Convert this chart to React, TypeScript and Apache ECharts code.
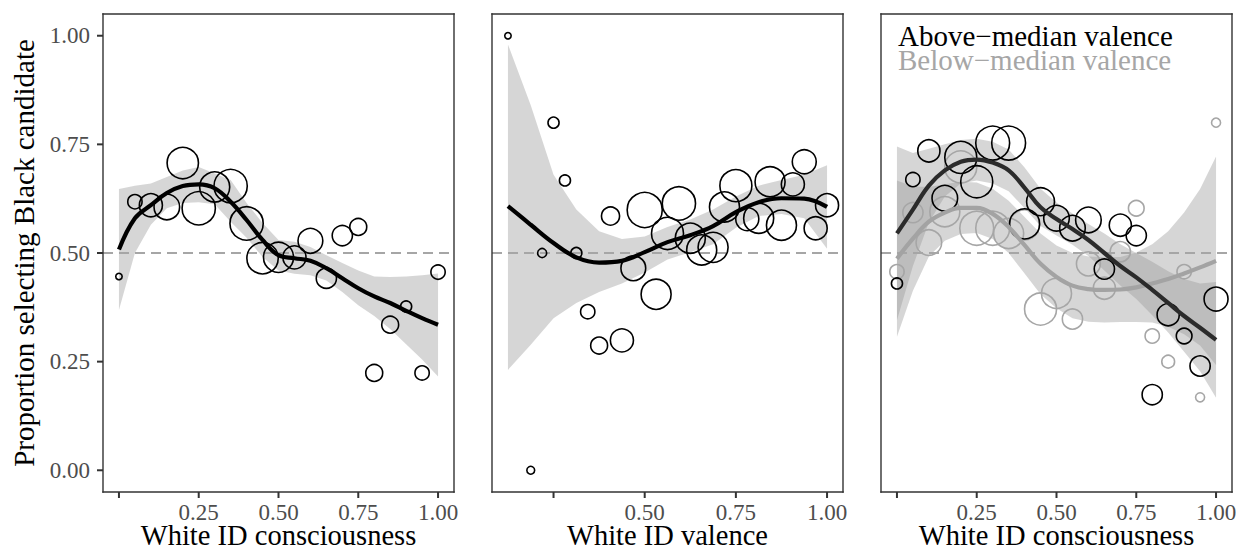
import React, { useEffect, useRef } from "react";
import * as echarts from "echarts";

// ---------- data ----------
const consX = [0, 0.05, 0.1, 0.15, 0.2, 0.25, 0.3, 0.35, 0.4, 0.45, 0.5, 0.55, 0.6, 0.65, 0.7, 0.75, 0.8, 0.85, 0.9, 0.95, 1.0];

// Panel 1: White ID consciousness
const p1Y = [0.446, 0.618, 0.61, 0.606, 0.707, 0.603, 0.652, 0.654, 0.568, 0.488, 0.49, 0.49, 0.528, 0.442, 0.54, 0.56, 0.224, 0.335, 0.377, 0.224, 0.456];
const p1N = [1, 5, 13, 16, 24, 27, 22, 27, 27, 24, 22, 13, 15, 10, 10, 7, 7, 7, 3, 5, 5];
const p1Fit = [0.508, 0.58, 0.61, 0.638, 0.654, 0.658, 0.649, 0.618, 0.576, 0.53, 0.495, 0.488, 0.482, 0.465, 0.442, 0.419, 0.4, 0.385, 0.367, 0.35, 0.335];
const p1Upper = [0.647, 0.655, 0.66, 0.675, 0.69, 0.698, 0.683, 0.668, 0.615, 0.569, 0.53, 0.526, 0.514, 0.495, 0.477, 0.46, 0.446, 0.445, 0.446, 0.449, 0.453];
const p1Lower = [0.369, 0.5, 0.565, 0.603, 0.615, 0.617, 0.612, 0.572, 0.535, 0.491, 0.46, 0.452, 0.449, 0.437, 0.41, 0.38, 0.355, 0.325, 0.29, 0.255, 0.216];

// Panel 2: White ID valence
const p2X = [0.125, 0.1875, 0.21875, 0.25, 0.28125, 0.3125, 0.34375, 0.375, 0.40625, 0.4375, 0.46875, 0.5, 0.53125, 0.5625, 0.59375, 0.625, 0.65625, 0.6875, 0.71875, 0.75, 0.78125, 0.8125, 0.84375, 0.875, 0.90625, 0.9375, 0.96875, 1.0];
const p2Y = [1.0, 0.0, 0.5, 0.8, 0.667, 0.5, 0.365, 0.287, 0.585, 0.299, 0.465, 0.599, 0.405, 0.545, 0.614, 0.534, 0.507, 0.513, 0.606, 0.655, 0.578, 0.58, 0.664, 0.564, 0.658, 0.71, 0.557, 0.61];
const p2N = [1, 1.5, 2, 3, 3, 3, 5, 7, 8, 13, 15, 30, 22, 25, 27, 22, 22, 22, 22, 25, 13, 22, 22, 22, 13, 14, 13, 13];
const p2FitX = [0.125, 0.1875, 0.25, 0.3125, 0.375, 0.4375, 0.5, 0.5625, 0.625, 0.6875, 0.75, 0.8125, 0.875, 0.9375, 1.0];
const p2Fit = [0.608, 0.565, 0.523, 0.49, 0.478, 0.482, 0.502, 0.525, 0.541, 0.562, 0.594, 0.617, 0.626, 0.625, 0.606];
const p2Upper = [0.98, 0.84, 0.68, 0.6, 0.55, 0.532, 0.538, 0.56, 0.577, 0.6, 0.63, 0.655, 0.668, 0.68, 0.702];
const p2Lower = [0.231, 0.289, 0.35, 0.385, 0.41, 0.43, 0.455, 0.485, 0.502, 0.52, 0.558, 0.585, 0.59, 0.58, 0.51];

// Panel 3: consciousness split by valence
const aboveY = [0.43, 0.669, 0.735, 0.626, 0.72, 0.664, 0.753, 0.753, 0.567, 0.618, 0.58, 0.557, 0.576, 0.463, 0.564, 0.54, 0.174, 0.358, 0.309, 0.24, 0.394];
const aboveN = [3, 5, 12, 16, 25, 25, 28, 28, 22, 19, 16, 16, 16, 10, 12, 10, 10, 12, 6, 10, 14];
const aboveFit = [0.545, 0.6, 0.655, 0.69, 0.71, 0.715, 0.708, 0.69, 0.65, 0.605, 0.578, 0.555, 0.53, 0.5, 0.47, 0.444, 0.415, 0.385, 0.355, 0.328, 0.3];
const aboveUpper = [0.745, 0.73, 0.74, 0.75, 0.76, 0.763, 0.756, 0.738, 0.697, 0.648, 0.616, 0.591, 0.567, 0.545, 0.52, 0.5, 0.48, 0.458, 0.44, 0.43, 0.433];
const aboveLower = [0.345, 0.47, 0.57, 0.63, 0.66, 0.667, 0.66, 0.642, 0.603, 0.562, 0.54, 0.519, 0.493, 0.46, 0.425, 0.394, 0.357, 0.317, 0.273, 0.228, 0.167];

const belowY = [0.457, 0.593, 0.524, 0.595, 0.698, 0.557, 0.557, 0.545, 0.565, 0.371, 0.407, 0.348, 0.475, 0.419, 0.503, 0.603, 0.309, 0.25, 0.457, 0.168, 0.8];
const belowN = [5, 10, 16, 22, 25, 28, 28, 22, 22, 25, 22, 10, 14, 12, 10, 6, 5, 4, 5, 2, 2];
const belowFit = [0.487, 0.533, 0.572, 0.593, 0.604, 0.604, 0.59, 0.56, 0.518, 0.475, 0.445, 0.425, 0.417, 0.415, 0.416, 0.421, 0.43, 0.44, 0.453, 0.467, 0.482];
const belowUpper = [0.667, 0.653, 0.652, 0.658, 0.664, 0.662, 0.648, 0.62, 0.583, 0.545, 0.517, 0.5, 0.492, 0.49, 0.491, 0.501, 0.52, 0.55, 0.593, 0.647, 0.722];
const belowLower = [0.307, 0.413, 0.492, 0.528, 0.544, 0.546, 0.532, 0.5, 0.453, 0.405, 0.373, 0.35, 0.342, 0.34, 0.341, 0.341, 0.34, 0.33, 0.313, 0.287, 0.242];

const ticksCons = [0, 0.25, 0.5, 0.75, 1.0];
const ticksVal = [0.25, 0.5, 0.75, 1.0];
const ticksY = [0, 0.25, 0.5, 0.75, 1.0];
const refLine = 0.5;

const yTitle = "Proportion selecting Black candidate";
const xTitles = ["White ID consciousness", "White ID valence", "White ID consciousness"];
const legendAbove = "Above\u2212median valence";
const legendBelow = "Below\u2212median valence";

// ---------- styling / layout ----------
const FONT = "Liberation Serif";
const FRAME_TOP = 14;
const FRAME_H = 478;
const FRAME_W = 351;
const FRAME_LEFTS = [103, 492, 881];
const PAD = 9; // room inside each grid for the outward ticks (left and bottom)
const BAND = "rgba(153,153,153,0.4)";
const GREY = "#A6A6A6";
const FRAME = "#333";
const Y_MIN = -0.05;
const Y_MAX = 1.05;
const X_RANGES = [
  [-0.05, 1.05],
  [0.08125, 1.04375],
  [-0.05, 1.05],
];
const X_TICKS = [ticksCons, ticksVal, ticksCons];
const Y_TICKS = [ticksY, [], []];
const TICK_LEN = 6;
const TICK_W = 2;
const FRAME_LW = 1.4;

const sizeOf = (v: number[]) => 6.4 * Math.sqrt(v[2]);

function bandSeries(idx: number, xs: number[], up: number[], lo: number[]) {
  return {
    type: "custom",
    xAxisIndex: idx,
    yAxisIndex: idx,
    silent: true,
    z: 1,
    data: [[xs[0], up[0]]],
    renderItem: (_p: any, api: any) => {
      const pts: number[][] = [];
      for (let i = 0; i < xs.length; i++) pts.push(api.coord([xs[i], up[i]]));
      for (let i = xs.length - 1; i >= 0; i--) pts.push(api.coord([xs[i], lo[i]]));
      return { type: "polygon", shape: { points: pts }, style: { fill: BAND } };
    },
  };
}

// panel frame + outward ticks, drawn through the axes' scales
function frameSeries(idx: number) {
  const [mn, mx] = X_RANGES[idx];
  const xt = X_TICKS[idx];
  const yt = Y_TICKS[idx];
  return {
    type: "custom",
    xAxisIndex: idx,
    yAxisIndex: idx,
    silent: true,
    z: 20,
    data: [[mn, Y_MIN]],
    renderItem: (_p: any, api: any) => {
      const tl = api.coord([mn, Y_MAX]);
      const br = api.coord([mx, Y_MIN]);
      const h = FRAME_LW / 2;
      const fill = { fill: FRAME };
      const children: any[] = [
        { type: "rect", shape: { x: tl[0] - h, y: tl[1] - h, width: br[0] - tl[0] + FRAME_LW, height: FRAME_LW }, style: fill },
        { type: "rect", shape: { x: tl[0] - h, y: br[1] - h, width: br[0] - tl[0] + FRAME_LW, height: FRAME_LW }, style: fill },
        { type: "rect", shape: { x: tl[0] - h, y: tl[1] - h, width: FRAME_LW, height: br[1] - tl[1] + FRAME_LW }, style: fill },
        { type: "rect", shape: { x: br[0] - h, y: tl[1] - h, width: FRAME_LW, height: br[1] - tl[1] + FRAME_LW }, style: fill },
      ];
      xt.forEach((v) => {
        const p = api.coord([v, Y_MIN]);
        children.push({ type: "rect", shape: { x: p[0] - TICK_W / 2, y: p[1], width: TICK_W, height: TICK_LEN }, style: fill });
      });
      yt.forEach((v) => {
        const p = api.coord([mn, v]);
        children.push({ type: "rect", shape: { x: p[0] - TICK_LEN, y: p[1] - TICK_W / 2, width: TICK_LEN, height: TICK_W }, style: fill });
      });
      return { type: "group", children };
    },
  };
}

function refSeries(idx: number) {
  const [mn, mx] = X_RANGES[idx];
  return {
    type: "line",
    xAxisIndex: idx,
    yAxisIndex: idx,
    silent: true,
    z: 2,
    symbol: "none",
    lineStyle: { color: GREY, type: [10, 6], width: 2 },
    data: [
      [mn, refLine],
      [mx, refLine],
    ],
  };
}

function scatterSeries(idx: number, xs: number[], ys: number[], ns: number[], color: string) {
  return {
    type: "scatter",
    xAxisIndex: idx,
    yAxisIndex: idx,
    silent: true,
    z: 3,
    symbol: "circle",
    symbolSize: sizeOf,
    itemStyle: { color: "rgba(0,0,0,0)", borderColor: color, borderWidth: 1.6, opacity: 1 },
    data: xs.map((x, i) => [x, ys[i], ns[i]]),
  };
}

function fitSeries(idx: number, xs: number[], ys: number[], color: string, z: number) {
  return {
    type: "line",
    xAxisIndex: idx,
    yAxisIndex: idx,
    silent: true,
    z,
    smooth: 0.4,
    symbol: "none",
    lineStyle: { color, width: 4.2, cap: "butt" },
    data: xs.map((x, i) => [x, ys[i]]),
  };
}

const labelStyle = {
  formatter: (v: number) => v.toFixed(2),
  fontSize: 23,
  lineHeight: 18,
  fontFamily: FONT,
  color: "#4D4D4D",
};

// axis extents are widened by PAD pixels so ticks sit inside the grid
function xAxisOf(idx: number) {
  const [mn, mx] = X_RANGES[idx];
  return {
    type: "value",
    gridIndex: idx,
    position: "bottom",
    min: mn - (PAD / FRAME_W) * (mx - mn),
    max: mx,
    splitLine: { show: false },
    axisLine: { show: false, onZero: false },
    axisTick: { show: false },
    axisLabel: { ...labelStyle, customValues: X_TICKS[idx], margin: 11.5 - PAD, showMinLabel: false },
  };
}

function yAxisOf(idx: number) {
  return {
    type: "value",
    gridIndex: idx,
    position: "left",
    min: Y_MIN - (PAD / FRAME_H) * (Y_MAX - Y_MIN),
    max: Y_MAX,
    splitLine: { show: false },
    axisLine: { show: false, onZero: false },
    axisTick: { show: false },
    axisLabel: { ...labelStyle, show: Y_TICKS[idx].length > 0, customValues: Y_TICKS[idx], margin: 13 - PAD },
  };
}

export default function App() {
  const ref = useRef<HTMLDivElement>(null);
  useEffect(() => {
    if (!ref.current) return;
    const chart = echarts.init(ref.current, undefined, { renderer: "svg" });
    const grids = FRAME_LEFTS.map((left) => ({
      show: false,
      left: left - PAD,
      top: FRAME_TOP,
      width: FRAME_W + PAD,
      height: FRAME_H + PAD,
      containLabel: false,
    }));
    const centers = FRAME_LEFTS.map((l) => l + FRAME_W / 2);
    const option: any = {
      animation: false,
      backgroundColor: "#fff",
      grid: grids,
      xAxis: [xAxisOf(0), xAxisOf(1), xAxisOf(2)],
      yAxis: [yAxisOf(0), yAxisOf(1), yAxisOf(2)],
      graphic: [
        {
          type: "text",
          x: 23.5,
          y: FRAME_TOP + FRAME_H / 2,
          rotation: Math.PI / 2,
          style: { text: yTitle, fontFamily: FONT, fontSize: 29, lineHeight: 20, fill: "#000", align: "center", verticalAlign: "middle" },
        },
        ...xTitles.map((t, i) => ({
          type: "text",
          x: centers[i],
          y: 535.5,
          style: { text: t, fontFamily: FONT, fontSize: 28.5, lineHeight: 20, fill: "#000", align: "center", verticalAlign: "middle" },
        })),
        {
          type: "text",
          x: 898,
          y: 36.2,
          z: 30,
          style: { text: legendAbove, fontFamily: FONT, fontSize: 29, lineHeight: 20, fill: "#000", align: "left", verticalAlign: "middle" },
        },
        {
          type: "text",
          x: 898,
          y: 60.2,
          z: 30,
          style: { text: legendBelow, fontFamily: FONT, fontSize: 29, lineHeight: 20, fill: GREY, align: "left", verticalAlign: "middle" },
        },
      ],
      series: [
        // panel 1
        bandSeries(0, consX, p1Upper, p1Lower),
        refSeries(0),
        scatterSeries(0, consX, p1Y, p1N, "#000"),
        fitSeries(0, consX, p1Fit, "#000", 5),
        frameSeries(0),
        // panel 2
        bandSeries(1, p2FitX, p2Upper, p2Lower),
        refSeries(1),
        scatterSeries(1, p2X, p2Y, p2N, "#000"),
        fitSeries(1, p2FitX, p2Fit, "#000", 5),
        frameSeries(1),
        // panel 3
        bandSeries(2, consX, aboveUpper, aboveLower),
        bandSeries(2, consX, belowUpper, belowLower),
        refSeries(2),
        scatterSeries(2, consX, belowY, belowN, GREY),
        scatterSeries(2, consX, aboveY, aboveN, "#000"),
        fitSeries(2, consX, belowFit, "#A3A3A3", 5),
        fitSeries(2, consX, aboveFit, "#2B2B2B", 6),
        frameSeries(2),
      ],
    };
    chart.setOption(option);
    return () => chart.dispose();
  }, []);
  return (
    <div
      ref={ref}
      style={{ position: "fixed", left: 0, top: 0, width: 1243, height: 559, background: "#fff" }}
    />
  );
}
